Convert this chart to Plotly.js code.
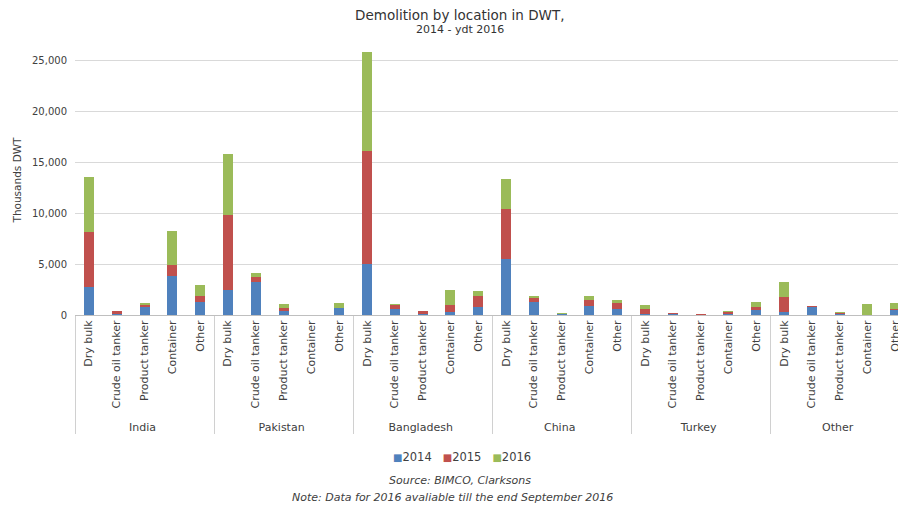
<!DOCTYPE html>
<html>
<head>
<meta charset="utf-8">
<script src="https://cdn.plot.ly/plotly-3.0.1.min.js"></script>
<style>html,body{margin:0;padding:0;background:#fff;}#chart{width:898px;height:505px;}</style>
</head>
<body>
<div id="chart"></div>
<script>
const locations = ["India", "Pakistan", "Bangladesh", "China", "Turkey", "Other"];
const shipTypes = ["Dry bulk", "Crude oil tanker", "Product tanker", "Container", "Other"];
const years = ["2014", "2015", "2016"];
const v2014 = [2700, 100, 750, 3800, 1250,  2500, 3200, 350, 0, 650,  5050, 550, 100, 300, 800,  5450, 1300, 50, 900, 550,  100, 50, 30, 100, 450,  300, 800, 50, 0, 450];
const v2015 = [5450, 250, 200, 1150, 600,  7300, 550, 300, 0, 50,  11000, 400, 250, 650, 1100,  4950, 350, 50, 600, 650,  500, 100, 50, 200, 350,  1500, 50, 150, 30, 150];
const v2016 = [5400, 50, 200, 3300, 1100,  6050, 350, 400, 0, 450,  9750, 100, 50, 1500, 500,  2900, 200, 50, 400, 250,  350, 20, 50, 100, 450,  1450, 50, 50, 1050, 550];
const colors = ["#4F81BD", "#C0504D", "#9BBB59"];

const outer = [], inner = [];
locations.forEach(l => shipTypes.forEach(t => { outer.push(l); inner.push(t); }));
const series = [v2014, v2015, v2016];
const FONT = "DejaVu Sans, Verdana, sans-serif";
const TXT = "#404040";

const traces = series.map((vals, i) => ({
  type: "bar",
  name: years[i],
  x: [outer, inner],
  y: vals,
  marker: {color: colors[i]},
  hoverinfo: "skip",
  showlegend: false
}));

// legend drawn as one line of text with coloured squares
const legendText = years.map((y, i) =>
  "<span style='color:" + colors[i] + ";font-size:10px'>■</span>" + y).join("&nbsp;&nbsp;&nbsp;");

const paperY = px => (315 - px) / 270;
const paperX = px => (px - 75) / 823;

const layout = {
  width: 898, height: 505,
  barmode: "stack",
  bargap: 0.64,
  margin: {l: 75, r: 0, t: 45, b: 190},
  paper_bgcolor: "#fff", plot_bgcolor: "#fff",
  font: {family: FONT, size: 10, color: TXT},
  title: {
    text: "Demolition by location in DWT,",
    x: 0.512, xanchor: "center", yref: "container", y: 1 - 15 / 505, yanchor: "middle",
    font: {family: FONT, size: 13.5, color: "#333"}
  },
  xaxis: {
    type: "multicategory",
    range: [-0.5, 29.1],
    tickangle: -90,
    showdividers: true,
    dividercolor: "#d0d0d0",
    dividerwidth: 1,
    showline: true, linecolor: "#bfbfbf", linewidth: 1,
    ticks: "",
    tickfont: {family: FONT, size: 11, color: TXT},
    showgrid: false
  },
  yaxis: {
    range: [0, 26500],
    tickvals: [0, 5000, 10000, 15000, 20000, 25000],
    ticktext: ["0", "5,000", "10,000", "15,000", "20,000", "25,000"],
    showgrid: true, gridcolor: "#d9d9d9", gridwidth: 1,
    zeroline: false,
    ticks: "", ticklen: 0,
    ticklabelstandoff: 7,
    tickfont: {family: FONT, size: 10, color: TXT},
    title: {text: "Thousands DWT", font: {family: FONT, size: 10.5, color: TXT}, standoff: 8}
  },
  showlegend: false,
  annotations: [
    {text: "2014 - ydt 2016", xref: "paper", yref: "paper", x: paperX(460), y: paperY(30), xanchor: "center", yanchor: "middle", showarrow: false, font: {family: FONT, size: 11, color: "#333"}},
    {text: legendText, xref: "paper", yref: "paper", x: paperX(462), y: paperY(457), xanchor: "center", yanchor: "middle", showarrow: false, font: {family: FONT, size: 11.5, color: TXT}},
    {text: "<i>Source: BIMCO, Clarksons</i>", xref: "paper", yref: "paper", x: paperX(460), y: paperY(480), xanchor: "center", yanchor: "middle", showarrow: false, font: {family: FONT, size: 11, color: TXT}},
    {text: "<i>Note: Data for 2016 avaliable till the end September 2016</i>", xref: "paper", yref: "paper", x: paperX(452), y: paperY(497), xanchor: "center", yanchor: "middle", showarrow: false, font: {family: FONT, size: 11, color: TXT}}
  ]
};

Plotly.newPlot("chart", traces, layout, {staticPlot: true, displayModeBar: false});
</script>
</body>
</html>
